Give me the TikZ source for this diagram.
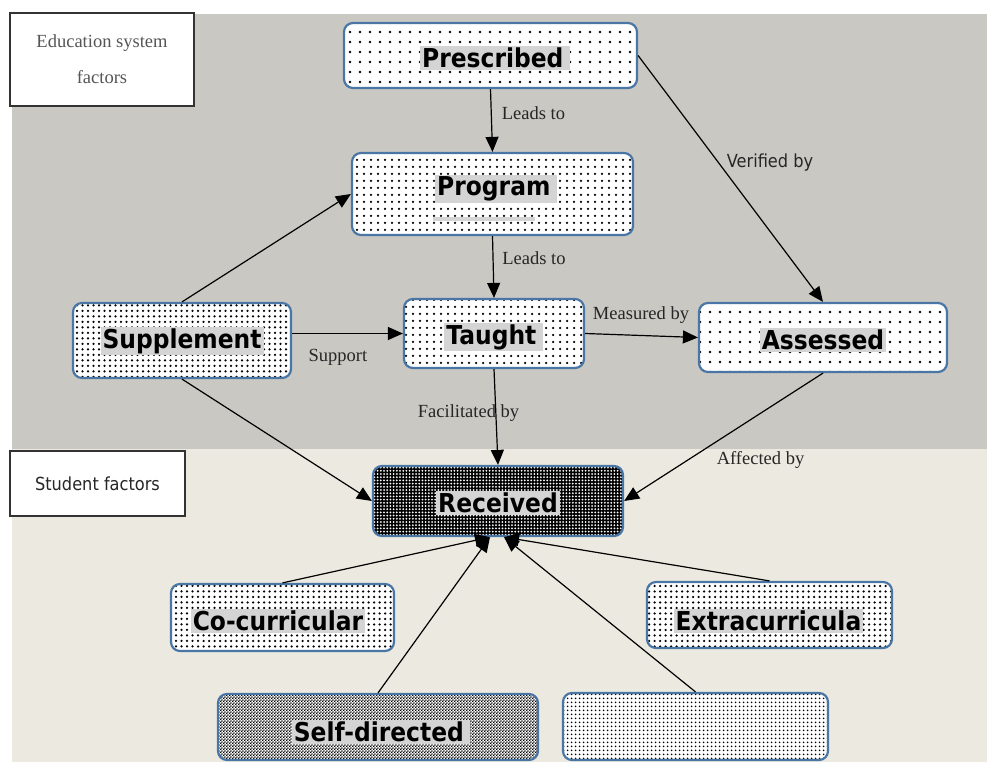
\documentclass[tikz,border=0pt]{standalone}
\usepackage{fontspec}
\setmainfont{Liberation Serif}
\newfontfamily\labelsans[FakeStretch=0.9]{DejaVu Sans}
\usetikzlibrary{arrows.meta,patterns,patterns.meta}
\definecolor{bggray}{HTML}{C9C8C3}
\definecolor{bgbeige}{HTML}{ECEAE0}
\definecolor{boxblue}{HTML}{4A76A6}
\definecolor{hlgray}{HTML}{D4D4D4}
\definecolor{edutext}{HTML}{555555}
\pgfdeclarepatternformonly{finecheck}{\pgfqpoint{0pt}{0pt}}{\pgfqpoint{3.2pt}{3.2pt}}{\pgfqpoint{3.2pt}{3.2pt}}{%
  \pgfpathrectangle{\pgfqpoint{0pt}{0pt}}{\pgfqpoint{1.6pt}{1.6pt}}%
  \pgfpathrectangle{\pgfqpoint{1.6pt}{1.6pt}}{\pgfqpoint{1.6pt}{1.6pt}}%
  \pgfusepath{fill}}
\tikzset{
  box/.style={draw=boxblue, line width=2.2pt, rounded corners=9pt, inner sep=0pt, preaction={fill=white}},
  sparse/.style={pattern={Dots[distance=10pt,radius=1.3pt]}},
  medium/.style={pattern={Dots[distance=7pt,radius=1.25pt]}},
  dense/.style={pattern={Dots[distance=5.5pt,radius=1.25pt]}},
  verydense/.style={pattern={Dots[distance=4pt,radius=1.15pt]}},
  darkcheck/.style={preaction={fill=black}, pattern={Dots[distance=3.2pt,radius=1.0pt]}, pattern color=white},
  lightcheck/.style={pattern=finecheck, pattern color=black},
  hl/.style={fill=hlgray, inner xsep=2pt, inner ysep=1.5pt, font=\labelsans\bfseries\fontsize{26}{30}\selectfont},
  conn/.style={line width=1.2pt, -{Triangle[length=15pt,width=13pt]}},
  lbl/.style={font=\fontsize{18.5}{22}\selectfont, text=black!85, inner sep=0pt},
  slbl/.style={font=\labelsans\fontsize{18}{21}\selectfont, text=black!85, inner sep=0pt},
  factbox/.style={draw=black!80, line width=1.2pt, fill=white, inner sep=0pt}
}
\begin{document}
\begin{tikzpicture}[x=1pt,y=-1pt]
\useasboundingbox (0,0) rectangle (987,762);
\fill[white] (0,0) rectangle (987,762);
\fill[bggray] (12,14) rectangle (987,449);
\fill[bgbeige] (12,449) rectangle (987,762);

% factor boxes
\node[factbox, minimum width=184pt, minimum height=93pt, align=center,
  font=\fontsize{18.5}{36}\selectfont, text=edutext] (edu) at (102,59.5) {Education system\\factors};
\node[factbox, minimum width=175pt, minimum height=65pt,
  font=\labelsans\fontsize{18}{21}\selectfont, text=black!85] (stu) at (97.5,483.5) {Student factors};

% main boxes
\node[box, sparse, minimum width=293pt, minimum height=65pt] (pre) at (490.5,55.5) {};
\node[hl] (preT) at (495,58) {Prescribed\,};

\node[box, medium, minimum width=281pt, minimum height=82pt] (prog) at (492.5,194) {};
\node[hl] (progT) at (496,189) {Program\,};
\fill[hlgray] (433,217) rectangle (535,221);

\node[box, medium, minimum width=180pt, minimum height=69pt] (taught) at (494,333.5) {};
\node[hl] (taughtT) at (493.5,337) {Taught\,};

\node[box, dense, minimum width=218pt, minimum height=75pt] (sup) at (182,340.5) {};
\node[hl] (supT) at (182,341) {Supplement};

\node[box, sparse, minimum width=248pt, minimum height=69pt] (ass) at (823,337.5) {};
\node[hl] (assT) at (823,340) {Assessed};

\node[box, darkcheck, minimum width=250pt, minimum height=70pt] (rec) at (498,501) {};
\node[hl] (recT) at (498,503) {Received};

\node[box, dense, minimum width=223pt, minimum height=67pt] (cocur) at (282.5,617.5) {};
\node[hl] (cocurT) at (278,621) {Co-curricular};

\node[box, dense, minimum width=245pt, minimum height=66pt] (extra) at (769.5,615) {};
\node[hl] (extraT) at (768.5,621) {Extracurricula};

\node[box, lightcheck, minimum width=320pt, minimum height=66pt] (self) at (378,727) {};
\node[hl] (selfT) at (381,732) {Self-directed\,};

\node[box, verydense, minimum width=265pt, minimum height=67pt] (empty) at (695.5,726.5) {};

% connectors
\draw[conn] (pre.south) -- (prog.north);
\draw[conn] (prog.south) -- (taught.north);
\draw[conn] (pre.east) -- (ass.north);
\draw[conn] (sup.north) -- (prog.west);
\draw[conn] (taught.west -| sup.east) -- (taught.west);
\draw[conn] (taught.east) -- (ass.west);
\draw[conn] (taught.south) -- (rec.north);
\draw[conn] (sup.south) -- (rec.west);
\draw[conn] (ass.south) -- (rec.east);
\draw[conn] (cocur.north) -- ([xshift=-8pt]rec.south);
\draw[conn] (self.north) -- ([xshift=-8pt]rec.south);
\draw[conn] (empty.north) -- ([xshift=6pt]rec.south);
\draw[conn] (extra.north) -- ([xshift=6pt]rec.south);

% edge labels
\node[lbl] (l1) at (533.5,113) {Leads to};
\node[lbl] (l2) at (534,258) {Leads to};
\node[lbl] (l3) at (641,315) {Measured by};
\node[slbl] (l4) at (770,163) {Verified by};
\node[lbl] (l5) at (338,357) {Support};
\node[lbl] (l6) at (468.5,413) {Facilitated by};
\node[lbl] (l7) at (760.5,460) {Affected by};
\end{tikzpicture}
\end{document}
